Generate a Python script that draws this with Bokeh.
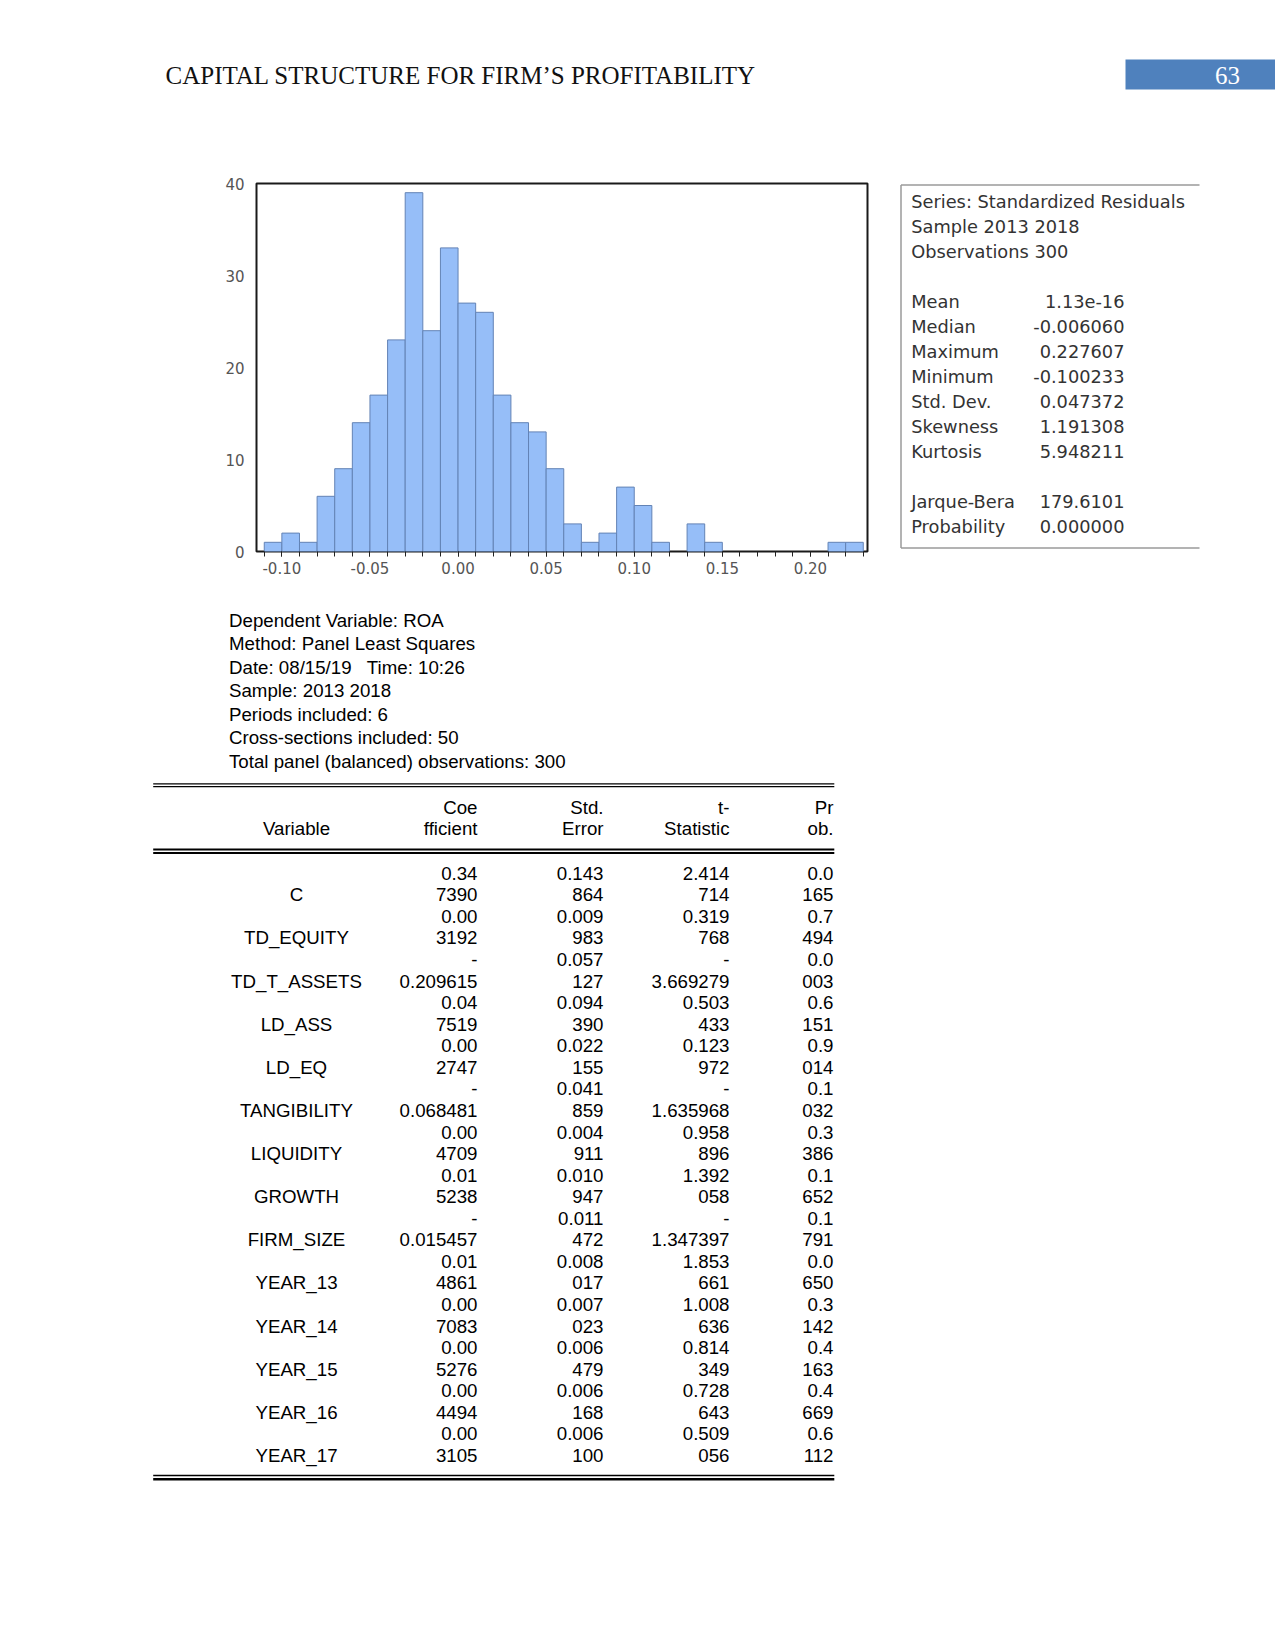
from bokeh.plotting import figure
from bokeh.layouts import column, row
from bokeh.models import Range1d, FixedTicker, NumeralTickFormatter
from bokeh.core.properties import value
from bokeh.embed import file_html
from bokeh.resources import INLINE

# ---------------- data ----------------
header_title = "CAPITAL STRUCTURE FOR FIRM\u2019S PROFITABILITY"
page_number = "63"

bin_left = [-0.11, -0.10, -0.09, -0.08, -0.07, -0.06, -0.05, -0.04, -0.03, -0.02,
            -0.01, 0.00, 0.01, 0.02, 0.03, 0.04, 0.05, 0.06, 0.07, 0.08,
            0.09, 0.10, 0.11, 0.12, 0.13, 0.14, 0.15, 0.16, 0.17, 0.18,
            0.19, 0.20, 0.21, 0.22]
bin_width = 0.01
counts = [1, 2, 1, 6, 9, 14, 17, 23, 39, 24,
          33, 27, 26, 17, 14, 13, 9, 3, 1, 2,
          7, 5, 1, 0, 3, 1, 0, 0, 0, 0,
          0, 0, 1, 1]
x_tick_values = [-0.10, -0.05, 0.00, 0.05, 0.10, 0.15, 0.20]
x_minor_ticks = [-0.11, -0.10, -0.09, -0.08, -0.07, -0.06, -0.05, -0.04, -0.03, -0.02,
                 -0.01, 0.00, 0.01, 0.02, 0.03, 0.04, 0.05, 0.06, 0.07, 0.08,
                 0.09, 0.10, 0.11, 0.12, 0.13, 0.14, 0.15, 0.16, 0.17, 0.18,
                 0.19, 0.20, 0.21, 0.22, 0.23]
y_tick_values = [0, 10, 20, 30, 40]

stat_header = ["Series: Standardized Residuals", "Sample 2013 2018", "Observations 300"]
stat_names = ["Mean", "Median", "Maximum", "Minimum", "Std. Dev.", "Skewness", "Kurtosis"]
stat_values = ["1.13e-16", "-0.006060", "0.227607", "-0.100233", "0.047372", "1.191308", "5.948211"]
test_names = ["Jarque-Bera", "Probability"]
test_values = ["179.6101", "0.000000"]

reg_info = [
    "Dependent Variable: ROA",
    "Method: Panel Least Squares",
    "Date: 08/15/19 \u00a0 Time: 10:26",
    "Sample: 2013 2018",
    "Periods included: 6",
    "Cross-sections included: 50",
    "Total panel (balanced) observations: 300",
]

col_head_top = ["Coe", "Std.", "t-", "Pr"]
col_head_bot = ["fficient", "Error", "Statistic", "ob."]
variables = ["C", "TD_EQUITY", "TD_T_ASSETS", "LD_ASS", "LD_EQ", "TANGIBILITY", "LIQUIDITY",
             "GROWTH", "FIRM_SIZE", "YEAR_13", "YEAR_14", "YEAR_15", "YEAR_16", "YEAR_17"]
coef_top = ["0.34", "0.00", "-", "0.04", "0.00", "-", "0.00", "0.01", "-", "0.01", "0.00", "0.00", "0.00", "0.00"]
coef_bot = ["7390", "3192", "0.209615", "7519", "2747", "0.068481", "4709", "5238", "0.015457",
            "4861", "7083", "5276", "4494", "3105"]
se_top = ["0.143", "0.009", "0.057", "0.094", "0.022", "0.041", "0.004", "0.010", "0.011",
          "0.008", "0.007", "0.006", "0.006", "0.006"]
se_bot = ["864", "983", "127", "390", "155", "859", "911", "947", "472", "017", "023", "479", "168", "100"]
t_top = ["2.414", "0.319", "-", "0.503", "0.123", "-", "0.958", "1.392", "-", "1.853", "1.008",
         "0.814", "0.728", "0.509"]
t_bot = ["714", "768", "3.669279", "433", "972", "1.635968", "896", "058", "1.347397", "661",
         "636", "349", "643", "056"]
p_top = ["0.0", "0.7", "0.0", "0.6", "0.9", "0.1", "0.3", "0.1", "0.1", "0.0", "0.3", "0.4", "0.4", "0.6"]
p_bot = ["165", "494", "003", "151", "014", "032", "386", "652", "791", "650", "142", "163", "669", "112"]

# ---------------- helpers ----------------
SANS = value("Liberation Sans")
EV = value("DejaVu Sans")
SERIF = value("Liberation Serif")

W = 1275
ROW_TOP, ROW_BOT = 150, 600
FRAME_L, FRAME_R, FRAME_T, FRAME_B = 256, 867, 183, 551


def pixel_fig(x0, x1, y0, y1, **kw):
    f = figure(width=int(x1 - x0), height=int(y1 - y0), x_range=Range1d(x0, x1),
               y_range=Range1d(y1, y0), output_backend="svg", toolbar_location=None,
               x_axis_type=None, y_axis_type=None, min_border=0, **kw)
    f.outline_line_color = None
    f.grid.visible = False
    f.background_fill_color = "white"
    f.border_fill_color = "white"
    return f


# ---------------- header (page coordinates) ----------------
head = pixel_fig(0, W, 0, ROW_TOP)
head.text(x=[165], y=[75], text=[header_title], text_font=SERIF,
          text_font_size="25px", text_baseline="middle", text_align="left", text_color="#111111")
head.quad(left=[1125], right=[W], top=[59], bottom=[89], fill_color="#4F81BD", line_color=None)
head.text(x=[1227], y=[75], text=[page_number], text_font=SERIF,
          text_font_size="25px", text_baseline="middle", text_align="center", text_color="white")

# ---------------- histogram ----------------
hist = figure(width=880, height=ROW_BOT - ROW_TOP, x_range=Range1d(-0.1144, 0.2324),
              y_range=Range1d(0, 40), output_backend="svg", toolbar_location=None,
              min_border_left=FRAME_L, min_border_right=880 - FRAME_R,
              min_border_top=FRAME_T - ROW_TOP, min_border_bottom=ROW_BOT - FRAME_B)
hist.grid.visible = False
hist.outline_line_color = "#1a1a1a"
hist.outline_line_width = 2
lefts = [b for b, c in zip(bin_left, counts) if c > 0]
tops = [c for c in counts if c > 0]
hist.quad(left=lefts, right=[b + bin_width for b in lefts], top=tops, bottom=0,
          fill_color="#96BEF8", line_color="#6383B5", line_width=1)

xa = hist.xaxis[0]
xa.ticker = FixedTicker(ticks=x_tick_values, minor_ticks=x_minor_ticks)
xa.formatter = NumeralTickFormatter(format="0.00")
xa.axis_line_color = None
xa.major_tick_in = 0
xa.major_tick_out = 5
xa.minor_tick_in = 0
xa.minor_tick_out = 5
xa.major_tick_line_color = "#222222"
xa.minor_tick_line_color = "#222222"
xa.major_label_standoff = 5
xa.major_label_text_font = "DejaVu Sans"
xa.major_label_text_font_size = "15px"
xa.major_label_text_color = "#555555"

ya = hist.yaxis[0]
ya.ticker = FixedTicker(ticks=y_tick_values)
ya.axis_line_color = None
ya.major_tick_line_color = None
ya.minor_tick_line_color = None
ya.major_tick_out = 0
ya.major_tick_in = 0
ya.major_label_standoff = 12
ya.major_label_text_font = "DejaVu Sans"
ya.major_label_text_font_size = "15px"
ya.major_label_text_color = "#555555"

# ---------------- stats box (page coordinates, frame matched to histogram frame) ----------------
stats = figure(width=W - 880, height=ROW_BOT - ROW_TOP, x_range=Range1d(880, W),
               y_range=Range1d(FRAME_B, FRAME_T), output_backend="svg", toolbar_location=None,
               x_axis_type=None, y_axis_type=None, min_border_left=0, min_border_right=0,
               min_border_top=FRAME_T - ROW_TOP, min_border_bottom=ROW_BOT - FRAME_B)
stats.outline_line_color = None
stats.grid.visible = False
box_l, box_t, box_b, box_r = 900.5, 184.5, 547.5, 1199
stats.segment(x0=[box_l, box_l, box_l], y0=[box_t, box_t, box_b],
              x1=[box_l, box_r, box_r], y1=[box_b, box_t, box_b],
              line_color="#9a9a9a", line_width=1.5)
row_h = 25.0
y_first = 201.2
txt_x = 910.7
val_x = 1124
SFS = "17.8px"
stats.text(x=[txt_x] * 3, y=[y_first + row_h * k for k in range(3)], text=stat_header,
           text_font=EV, text_font_size=SFS, text_baseline="middle", text_color="#333333")
stats.text(x=[txt_x] * 7, y=[y_first + row_h * (k + 4) for k in range(7)], text=stat_names,
           text_font=EV, text_font_size=SFS, text_baseline="middle", text_color="#333333")
stats.text(x=[val_x] * 7, y=[y_first + row_h * (k + 4) for k in range(7)], text=stat_values,
           text_font=EV, text_font_size=SFS, text_baseline="middle", text_align="right",
           text_color="#333333")
stats.text(x=[txt_x] * 2, y=[y_first + row_h * (k + 12) for k in range(2)], text=test_names,
           text_font=EV, text_font_size=SFS, text_baseline="middle", text_color="#333333")
stats.text(x=[val_x] * 2, y=[y_first + row_h * (k + 12) for k in range(2)], text=test_values,
           text_font=EV, text_font_size=SFS, text_baseline="middle", text_align="right",
           text_color="#333333")

# ---------------- regression output (page coordinates) ----------------
tab = pixel_fig(0, W, ROW_BOT, 1500)
FS = "18.7px"
tab.text(x=[228.5] * len(reg_info), y=[620 + 23.45 * i for i in range(len(reg_info))],
         text=reg_info, text_font=SANS, text_font_size=FS, text_baseline="middle", text_color="#000000")

rule_l, rule_r = 152.7, 833.8
tab.segment(x0=[rule_l] * 2, x1=[rule_r] * 2, y0=[783.3, 786.2], y1=[783.3, 786.2],
            line_color="#000000", line_width=1.2)
tab.segment(x0=[rule_l] * 2, x1=[rule_r] * 2, y0=[849.0, 852.5], y1=[849.0, 852.5],
            line_color="#000000", line_width=2)
tab.segment(x0=[rule_l], x1=[rule_r], y0=[1475.0], y1=[1475.0], line_color="#000000", line_width=1.6)
tab.segment(x0=[rule_l], x1=[rule_r], y0=[1478.8], y1=[1478.8], line_color="#000000", line_width=2.4)

col_right = [477, 603, 729, 833]
var_center = 296
h1, h2 = 806.5, 827.5
tab.text(x=col_right, y=[h1] * 4, text=col_head_top, text_font=SANS, text_font_size=FS,
         text_baseline="middle", text_align="right", text_color="#000000")
tab.text(x=col_right, y=[h2] * 4, text=col_head_bot, text_font=SANS, text_font_size=FS,
         text_baseline="middle", text_align="right", text_color="#000000")
tab.text(x=[var_center], y=[h2], text=["Variable"], text_font=SANS, text_font_size=FS,
         text_baseline="middle", text_align="center", text_color="#000000")

r0 = 872.8
rstep = 21.56
n = len(variables)
ytop = [r0 + rstep * 2 * i for i in range(n)]
ybot = [r0 + rstep * (2 * i + 1) for i in range(n)]
tab.text(x=[var_center] * n, y=ybot, text=variables, text_font=SANS, text_font_size=FS,
         text_baseline="middle", text_align="center", text_color="#000000")
for cx, tops_, bots_ in zip(col_right, [coef_top, se_top, t_top, p_top], [coef_bot, se_bot, t_bot, p_bot]):
    tab.text(x=[cx] * n, y=ytop, text=tops_, text_font=SANS, text_font_size=FS,
             text_baseline="middle", text_align="right", text_color="#000000")
    tab.text(x=[cx] * n, y=ybot, text=bots_, text_font=SANS, text_font_size=FS,
             text_baseline="middle", text_align="right", text_color="#000000")

layout = column(head, row(hist, stats), tab)
open("out.html", "w").write(file_html(layout, INLINE))
